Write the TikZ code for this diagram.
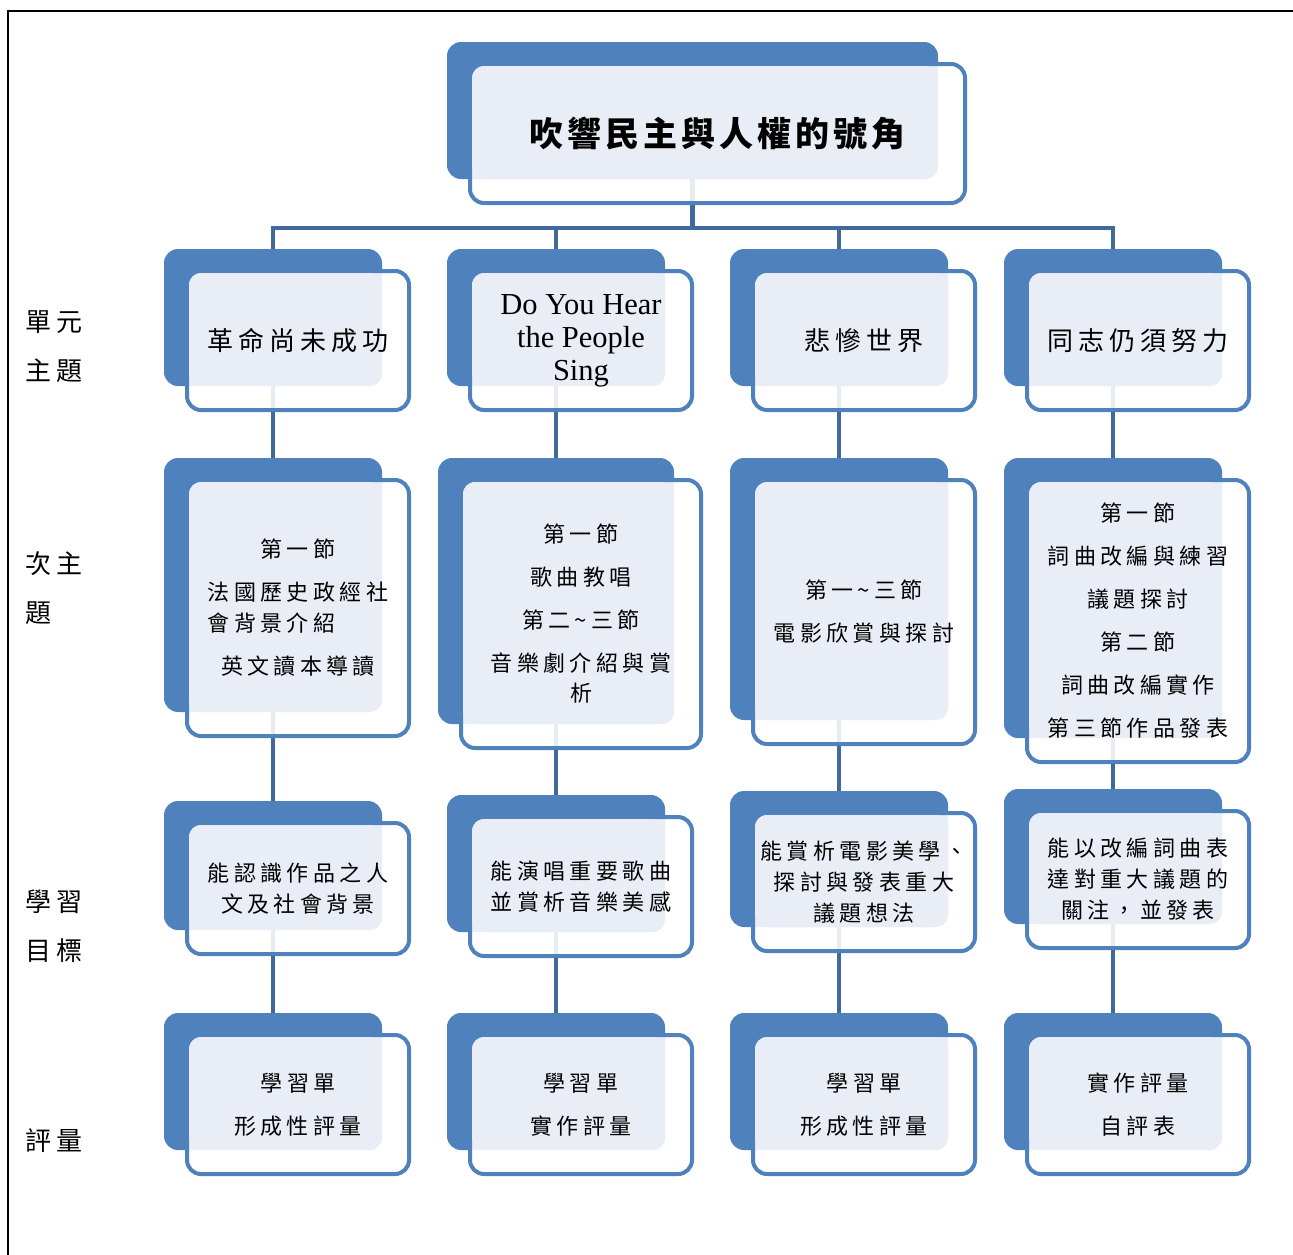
\documentclass[tikz,border=0pt]{standalone}
\usepackage{fontspec}
\setmainfont{Liberation Serif}
\newfontfamily\cjk[LetterSpace=20]{Noto Sans CJK TC}
\newfontfamily\cjkt[LetterSpace=12]{Noto Sans CJK TC}
\usetikzlibrary{calc}
\pgfdeclarelayer{background}
\pgfsetlayers{background,main}
\definecolor{boxblue}{RGB}{79,129,189}
\definecolor{lightfill}{RGB}{233,238,246}
\definecolor{connblue}{RGB}{65,105,155}
\tikzset{
  bluebox/.style={fill=boxblue, draw=none, rounded corners=14pt, inner sep=0pt, outer sep=0pt},
  outl/.style={draw=boxblue, line width=4pt, fill=white, fill opacity=0.88, rounded corners=14pt},
  lightbox/.style={fill=lightfill, rounded corners=12pt},
  conn/.style={draw=connblue, line width=4.5pt},
  txtT/.style={font=\cjkt\bfseries\fontsize{34}{40}\selectfont, align=center, inner sep=0pt},
  txtA/.style={font=\cjk\fontsize{26}{33}\selectfont, align=center, inner sep=0pt},
  txtE/.style={font=\fontsize{30.5}{33}\selectfont, align=center, inner sep=0pt},
  txtB/.style={font=\cjk\fontsize{22}{43}\selectfont, align=center, inner sep=0pt},
  txtC/.style={font=\cjk\fontsize{22}{31}\selectfont, align=center, inner sep=0pt},
  lbl/.style={font=\cjk\fontsize{26}{49}\selectfont, align=left, anchor=west, inner sep=0pt},
}
\newcommand\mkunit[7]{%
  \node[bluebox, minimum width={(#4-#2)*1pt}, minimum height={(#5-#3)*1pt}] (#1) at ({(#2+#4)/2},{(#3+#5)/2}) {};
  \draw[outl] ([shift={(23,22)}]#1.north west) rectangle ([shift={(27,24)}]#1.south east);
  \fill[lightbox] ([shift={(25,24)}]#1.north west) rectangle (#1.south east);
  \node[#6] (#1t) at ([shift={(25,23)}]#1.center) {#7};
}
\begin{document}
\begin{tikzpicture}[x=1pt,y=-1pt]
\useasboundingbox (0,0) rectangle (1293,1254);
\draw[line width=2pt] (8,1280) -- (8,11) -- (1320,11);

% title
\mkunit{title}{447}{42}{938}{179}{txtT}{吹響民主與人權的號角}

% row 1
\mkunit{u1}{164}{249}{382}{386}{txtA}{革命尚未成功}
\mkunit{u2}{447}{249}{665}{386}{txtE}{Do You Hear\\the People\\Sing}
\mkunit{u3}{730}{249}{948}{386}{txtA}{悲慘世界}
\mkunit{u4}{1004}{249}{1222}{386}{txtA}{同志仍須努力}

% row 2
\mkunit{s1}{164}{458}{382}{712}{txtB}{第一節\\法國歷史政經社\\[-12pt]\rlap{會背景介紹}\phantom{法國歷史政經社}\\英文讀本導讀}
\mkunit{s2}{438}{458}{674}{724}{txtB}{第一節\\歌曲教唱\\第二\textasciitilde 三節\\音樂劇介紹與賞\\[-13pt]析}
\mkunit{s3}{730}{458}{948}{720}{txtB}{第一\textasciitilde 三節\\電影欣賞與探討}
\mkunit{s4}{1004}{458}{1222}{738}{txtB}{第一節\\詞曲改編與練習\\議題探討\\第二節\\詞曲改編實作\\第三節作品發表}

% row 3
\mkunit{g1}{164}{801}{382}{930}{txtC}{能認識作品之人\\文及社會背景}
\mkunit{g2}{447}{795}{665}{932}{txtC}{能演唱重要歌曲\\並賞析音樂美感}
\mkunit{g3}{730}{791}{948}{927}{txtC}{能賞析電影美學、\\探討與發表重大\\議題想法}
\mkunit{g4}{1004}{789}{1222}{924}{txtC}{能以改編詞曲表\\達對重大議題的\\關注，並發表}

% row 4
\mkunit{e1}{164}{1013}{382}{1150}{txtB}{學習單\\形成性評量}
\mkunit{e2}{447}{1013}{665}{1150}{txtB}{學習單\\實作評量}
\mkunit{e3}{730}{1013}{948}{1150}{txtB}{學習單\\形成性評量}
\mkunit{e4}{1004}{1013}{1222}{1150}{txtB}{實作評量\\自評表}

% left labels
\node[lbl] (l1) at (25,347) {單元\\主題};
\node[lbl] (l2) at (25,588) {次主\\題};
\node[lbl] (l3) at (25,926) {學習\\目標};
\node[lbl] (l4) at (25,1141) {評量};

% connectors
\coordinate (busy) at (0,228);
\begin{pgfonlayer}{background}
  \draw[conn] (title.center) -- (title.center |- busy);
  \draw[conn] ([xshift=-2.25pt]u1.center |- busy) -- ([xshift=2.25pt]u4.center |- busy);
  \foreach \i in {1,2,3,4}{
    \draw[conn] (u\i.center |- busy) -- (u\i.center);
    \draw[conn] (u\i.center) -- (s\i.center) -- (g\i.center) -- (e\i.center);
  }
\end{pgfonlayer}
\end{tikzpicture}
\end{document}
